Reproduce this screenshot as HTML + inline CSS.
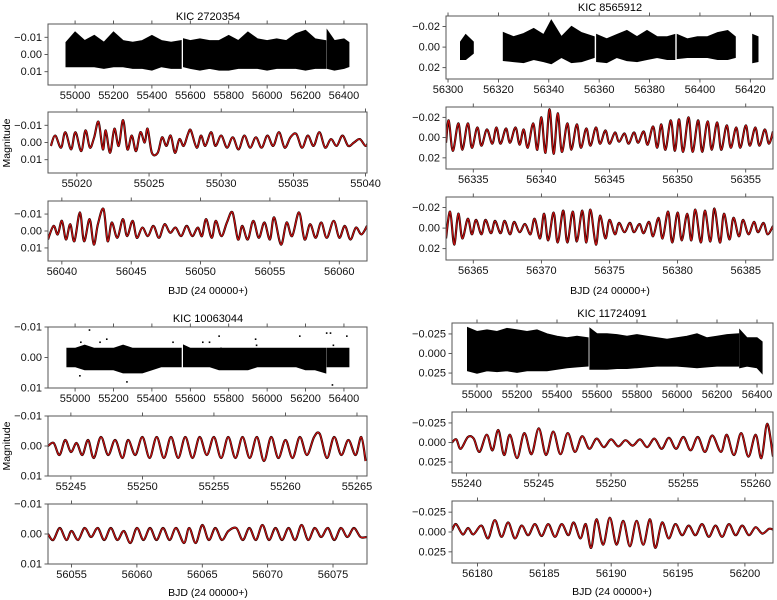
<!DOCTYPE html>
<html><head><meta charset="utf-8"><style>
html,body{margin:0;padding:0;background:#fff}
svg{display:block;font-family:"Liberation Sans","DejaVu Sans",sans-serif}
</style></head><body>
<svg id="fig" width="777" height="600" viewBox="0 0 777 600" xmlns="http://www.w3.org/2000/svg">
<text x="208" y="20" font-size="11" text-anchor="middle">KIC 2720354</text>
<text x="610" y="11" font-size="11" text-anchor="middle">KIC 8565912</text>
<text x="208" y="322" font-size="11" text-anchor="middle">KIC 10063044</text>
<text x="612" y="317" font-size="11" text-anchor="middle">KIC 11724091</text>
<text x="208" y="294" font-size="10.5" text-anchor="middle">BJD (24 00000+)</text>
<text x="610" y="294" font-size="10.5" text-anchor="middle">BJD (24 00000+)</text>
<text x="208" y="596" font-size="10.5" text-anchor="middle">BJD (24 00000+)</text>
<text x="612" y="595" font-size="10.5" text-anchor="middle">BJD (24 00000+)</text>
<text transform="translate(10,143) rotate(-90)" font-size="10.5" text-anchor="middle">Magnitude</text>
<text transform="translate(10,446) rotate(-90)" font-size="10.5" text-anchor="middle">Magnitude</text>
</svg>
<script>
// ---- full-range light curve envelopes (null = gap) ----
const tlFullT=[54953,55000,55050,55100,55150,55200,55250,55300,55350,55400,55450,55500,55552,null,55565,55600,55650,55700,55750,55800,55850,55900,55950,56000,56050,56100,56150,56200,56250,56305,null,56313,56350,56400,56425];
const tlFullUp=[-0.007,-0.013,-0.008,-0.011,-0.007,-0.013,-0.008,-0.007,-0.008,-0.011,-0.008,-0.007,-0.008,null,-0.009,-0.008,-0.009,-0.008,-0.008,-0.011,-0.008,-0.013,-0.009,-0.008,-0.009,-0.008,-0.012,-0.014,-0.009,-0.008,null,-0.014,-0.008,-0.009,-0.007];
const tlFullLo=[0.007,0.007,0.007,0.007,0.008,0.007,0.007,0.008,0.008,0.009,0.007,0.008,0.008,null,0.007,0.008,0.009,0.008,0.009,0.009,0.008,0.008,0.008,0.009,0.008,0.008,0.008,0.009,0.008,0.008,null,0.008,0.009,0.008,0.007];
const trFullT=[56305,56307,56310,null,56322,56326,56330,56334,56338,56341,56345,56349,56353,56358,null,56359,56363,56367,56371,56375,56379,56383,56387,56390,null,56391,56395,56399,56403,56407,56411,56414,null,56421,56423];
const trFullUp=[-0.005,-0.012,-0.005,null,-0.014,-0.010,-0.013,-0.018,-0.012,-0.026,-0.010,-0.020,-0.014,-0.010,null,-0.012,-0.008,-0.012,-0.016,-0.010,-0.016,-0.010,-0.010,-0.012,null,-0.012,-0.008,-0.010,-0.010,-0.014,-0.016,-0.010,null,-0.012,-0.010];
const trFullLo=[0.012,0.012,0.006,null,0.013,0.014,0.015,0.012,0.014,0.016,0.010,0.015,0.014,0.010,null,0.014,0.015,0.010,0.013,0.014,0.012,0.010,0.012,0.012,null,0.011,0.010,0.010,0.010,0.012,0.012,0.010,null,0.015,0.014];
const blFullT=[54958,55000,55050,55100,55150,55200,55250,55300,55350,55400,55450,55500,55552,null,55565,55600,55650,55700,55750,55800,55850,55900,55950,56000,56050,56100,56150,56200,56250,56305,null,56313,56350,56400,56425];
const blFullUp=[-0.003,-0.003,-0.004,-0.003,-0.003,-0.003,-0.004,-0.003,-0.003,-0.003,-0.003,-0.003,-0.003,null,-0.004,-0.003,-0.003,-0.003,-0.003,-0.003,-0.003,-0.003,-0.003,-0.003,-0.003,-0.003,-0.003,-0.003,-0.003,-0.003,null,-0.003,-0.003,-0.003,-0.003];
const blFullLo=[0.003,0.003,0.004,0.004,0.004,0.004,0.005,0.005,0.005,0.004,0.003,0.003,0.003,null,0.003,0.003,0.003,0.003,0.004,0.004,0.004,0.004,0.003,0.003,0.003,0.003,0.003,0.004,0.004,0.005,null,0.003,0.003,0.003,0.003];
const blOutT=[55025,55030,55075,55130,55165,55270,55510,55665,55700,55750,55760,55940,55945,56170,56310,56330,56340,56345,56415];
const blOutV=[0.006,-0.005,-0.009,-0.005,-0.006,0.008,-0.005,-0.005,-0.005,-0.007,-0.003,-0.006,-0.004,-0.007,-0.008,-0.008,0.009,-0.004,-0.007];
const brFullT=[54953,55000,55050,55100,55150,55200,55250,55300,55350,55400,55450,55500,55555,null,55565,55600,55650,55700,55750,55800,55850,55900,55950,56000,56050,56100,56150,56200,56250,56308,null,56314,56350,56400,56425];
const brFullUp=[-0.033,-0.028,-0.030,-0.028,-0.032,-0.030,-0.028,-0.030,-0.025,-0.022,-0.020,-0.022,-0.020,null,-0.032,-0.025,-0.025,-0.024,-0.022,-0.024,-0.022,-0.020,-0.018,-0.020,-0.022,-0.025,-0.020,-0.022,-0.024,-0.025,null,-0.030,-0.020,-0.020,-0.015];
const brFullLo=[0.022,0.025,0.022,0.023,0.022,0.024,0.022,0.022,0.022,0.020,0.018,0.017,0.016,null,0.020,0.020,0.020,0.019,0.019,0.018,0.017,0.016,0.016,0.016,0.017,0.018,0.017,0.016,0.016,0.016,null,0.018,0.016,0.018,0.025];

// ---- zoomed light curves: extrema times and magnitudes ----
const tl2T=[55018.2,55018.5,55018.9,55019.2,55019.6,55019.9,55020.3,55020.6,55020.9,55021.2,55021.5,55021.8,55022.0,55022.3,55022.6,55022.9,55023.2,55023.5,55023.8,55024.1,55024.4,55024.7,55024.9,55025.2,55025.6,55025.9,55026.2,55026.5,55026.8,55027.1,55027.4,55027.7,55027.9,55028.3,55028.6,55028.9,55029.3,55029.6,55030.0,55030.4,55030.8,55031.2,55031.6,55032.0,55032.4,55032.8,55033.2,55033.6,55034.0,55034.4,55034.8,55035.2,55035.6,55036.0,55036.4,55036.8,55037.2,55037.6,55038.0,55038.4,55038.8,55039.2,55039.6,55040.0,55040.2];
const tl2V=[0.002,-0.004,0.003,-0.006,0.004,-0.006,0.005,-0.007,0.003,-0.003,-0.012,0.004,-0.007,0.006,-0.008,0.002,-0.013,0.004,-0.004,0.005,-0.006,0.0,-0.008,0.006,0.006,-0.003,0.002,-0.004,0.006,-0.002,0.002,-0.005,-0.007,0.003,-0.004,0.002,-0.006,0.002,-0.004,0.003,-0.003,0.004,-0.004,0.003,-0.003,0.003,-0.004,0.002,-0.006,0.003,-0.003,-0.005,0.003,-0.004,0.002,-0.006,0.003,-0.002,0.002,-0.004,0.002,0.0,-0.002,0.002,-0.001];
const tl3T=[56039.0,56039.4,56039.7,56040.0,56040.3,56040.6,56040.9,56041.3,56041.6,56042.0,56042.3,56042.6,56043.0,56043.3,56043.6,56044.0,56044.4,56044.7,56045.1,56045.4,56045.8,56046.2,56046.6,56047.0,56047.4,56047.8,56048.2,56048.6,56049.0,56049.4,56049.8,56050.1,56050.4,56050.8,56051.1,56051.5,56051.9,56052.3,56052.7,56053.0,56053.4,56053.8,56054.2,56054.6,56055.0,56055.3,56055.8,56056.2,56056.6,56057.1,56057.5,56057.9,56058.3,56058.7,56059.1,56059.6,56060.0,56060.4,56060.8,56061.2,56061.6,56062.0];
const tl3V=[0.005,-0.003,0.002,-0.006,0.005,-0.004,0.006,-0.011,0.006,-0.007,0.008,-0.004,-0.013,0.006,-0.005,0.004,-0.007,0.003,-0.006,0.004,-0.002,0.003,-0.003,0.004,-0.004,0.001,-0.002,0.003,-0.003,0.003,-0.002,0.003,-0.007,0.004,-0.006,0.003,-0.005,-0.011,0.005,-0.003,0.005,-0.006,0.004,-0.005,0.005,-0.008,0.008,-0.005,0.003,-0.011,0.005,-0.004,0.004,-0.005,0.004,-0.006,0.004,-0.003,0.005,-0.002,0.002,-0.003];
const tr2T=[56333.0,56333.2,56333.5,56333.9,56334.2,56334.6,56334.9,56335.3,56335.6,56336.0,56336.4,56336.7,56337.0,56337.4,56337.7,56338.1,56338.4,56338.7,56339.0,56339.4,56339.7,56340.0,56340.3,56340.6,56340.9,56341.2,56341.5,56341.9,56342.2,56342.6,56342.9,56343.3,56343.6,56344.0,56344.3,56344.7,56345.0,56345.4,56345.7,56346.1,56346.4,56346.8,56347.1,56347.5,56347.8,56348.2,56348.5,56348.8,56349.1,56349.5,56349.8,56350.1,56350.4,56350.8,56351.1,56351.5,56351.8,56352.2,56352.5,56352.9,56353.2,56353.6,56353.9,56354.3,56354.6,56355.0,56355.3,56355.7,56356.0,56356.4,56356.7,56357.0];
const tr2V=[0.005,-0.017,0.013,-0.014,0.012,-0.014,0.010,-0.010,0.008,-0.008,0.006,-0.010,0.006,-0.009,0.005,-0.010,0.007,-0.008,0.010,-0.014,0.012,-0.020,0.015,-0.028,0.016,-0.024,0.014,-0.014,0.012,-0.013,0.010,-0.009,0.008,-0.010,0.006,-0.007,0.006,-0.005,0.004,-0.004,0.006,-0.005,0.005,-0.006,0.007,-0.011,0.010,-0.013,0.012,-0.017,0.013,-0.018,0.014,-0.020,0.014,-0.017,0.014,-0.016,0.012,-0.015,0.012,-0.012,0.010,-0.010,0.010,-0.012,0.008,-0.010,0.008,-0.008,0.006,-0.006];
const tr3T=[56363.0,56363.3,56363.6,56363.9,56364.2,56364.6,56364.9,56365.2,56365.6,56365.9,56366.3,56366.6,56367.0,56367.3,56367.7,56368.0,56368.4,56368.8,56369.2,56369.5,56369.9,56370.2,56370.5,56370.9,56371.2,56371.6,56371.9,56372.3,56372.6,56373.0,56373.3,56373.6,56374.0,56374.3,56374.7,56375.0,56375.4,56375.7,56376.1,56376.5,56376.8,56377.2,56377.5,56377.9,56378.2,56378.6,56378.9,56379.3,56379.6,56380.0,56380.3,56380.7,56381.0,56381.3,56381.7,56382.0,56382.4,56382.7,56383.1,56383.4,56383.8,56384.1,56384.5,56384.8,56385.2,56385.6,56385.9,56386.3,56386.6,56387.0];
const tr3V=[0.010,-0.016,0.016,-0.014,0.010,-0.009,0.006,-0.008,0.006,-0.008,0.005,-0.007,0.005,-0.007,0.006,-0.006,0.004,-0.004,0.006,-0.009,0.010,-0.014,0.012,-0.015,0.014,-0.017,0.014,-0.016,0.013,-0.017,0.014,-0.018,0.016,-0.012,0.010,-0.008,0.006,-0.005,0.004,-0.005,0.004,-0.004,0.005,-0.006,0.008,-0.010,0.010,-0.016,0.014,-0.015,0.012,-0.014,0.012,-0.018,0.014,-0.017,0.013,-0.019,0.014,-0.014,0.011,-0.010,0.008,-0.008,0.006,-0.006,0.004,-0.005,0.006,-0.002];
const bl2T=[55243.4,55243.8,55244.2,55244.6,55245.0,55245.4,55245.8,55246.2,55246.6,55247.1,55247.6,55248.1,55248.6,55249.0,55249.5,55250.0,55250.5,55251.0,55251.5,55252.0,55252.5,55253.0,55253.5,55254.0,55254.5,55255.0,55255.5,55256.0,55256.5,55257.0,55257.5,55258.0,55258.5,55259.0,55259.5,55260.0,55260.5,55261.0,55261.5,55262.0,55262.4,55262.9,55263.4,55263.9,55264.4,55264.9,55265.3,55265.6];
const bl2V=[0.000,-0.001,0.003,-0.002,0.002,-0.001,0.003,-0.002,0.004,-0.003,0.003,-0.002,0.004,-0.002,0.003,-0.003,0.004,-0.003,0.004,-0.003,0.004,-0.003,0.004,-0.003,0.003,-0.003,0.004,-0.003,0.004,-0.003,0.004,-0.003,0.005,-0.003,0.004,-0.002,0.004,-0.003,0.003,-0.003,-0.004,0.004,-0.003,0.003,-0.002,0.003,-0.003,0.005];
const bl3T=[56053.2,56053.6,56054.1,56054.6,56055.0,56055.5,56056.0,56056.5,56057.0,56057.5,56058.0,56058.5,56059.0,56059.5,56060.0,56060.5,56061.0,56061.5,56062.0,56062.5,56063.0,56063.6,56064.0,56064.5,56065.0,56065.5,56066.0,56066.5,56067.0,56067.6,56068.1,56068.6,56069.1,56069.6,56070.1,56070.6,56071.1,56071.6,56072.1,56072.6,56073.1,56073.6,56074.1,56074.6,56075.1,56075.6,56076.1,56076.6,56077.1,56077.6];
const bl3V=[0.000,0.002,-0.002,0.002,-0.001,0.002,-0.002,0.001,-0.002,0.002,-0.002,0.002,-0.001,0.003,-0.002,0.002,-0.002,0.002,-0.002,0.002,-0.002,0.003,-0.002,0.003,-0.003,0.002,-0.002,0.002,-0.001,-0.002,0.002,-0.002,0.002,-0.003,0.002,-0.002,0.002,-0.002,0.002,-0.003,0.002,-0.002,0.001,-0.002,0.002,-0.002,0.001,-0.002,0.001,0.001];
const br2T=[55239.0,55239.3,55239.6,55240.1,55240.5,55240.9,55241.4,55241.8,55242.2,55242.6,55243.0,55243.5,55244.0,55244.5,55245.0,55245.5,55246.0,55246.5,55247.0,55247.5,55248.0,55248.5,55249.0,55249.5,55250.0,55250.5,55251.0,55251.5,55252.0,55252.5,55253.0,55253.5,55254.0,55254.5,55255.0,55255.5,55256.0,55256.5,55257.0,55257.6,55258.0,55258.5,55259.0,55259.5,55260.0,55260.4,55260.8,55261.2];
const br2V=[0.000,-0.004,0.008,-0.007,-0.005,0.012,-0.010,0.010,-0.016,0.016,-0.010,0.020,-0.012,0.015,-0.018,0.016,-0.014,0.015,-0.012,0.012,-0.008,0.008,-0.005,0.006,-0.004,0.005,-0.003,0.004,-0.004,0.006,-0.005,0.008,-0.006,0.008,-0.007,0.010,-0.007,0.012,-0.009,0.012,-0.010,0.016,-0.012,0.018,-0.010,0.020,-0.024,0.018];
const br3T=[56178.1,56178.4,56178.9,56179.3,56179.7,56180.3,56180.8,56181.3,56181.8,56182.3,56182.8,56183.3,56183.8,56184.3,56184.8,56185.3,56185.8,56186.3,56186.8,56187.2,56187.7,56188.1,56188.5,56188.9,56189.4,56189.9,56190.4,56190.9,56191.4,56191.9,56192.4,56192.9,56193.3,56193.8,56194.3,56194.8,56195.3,56195.8,56196.3,56196.8,56197.3,56197.8,56198.3,56198.8,56199.3,56199.8,56200.3,56200.8,56201.3,56201.8,56202.1];
const br3V=[-0.002,-0.010,0.003,-0.005,0.003,-0.008,0.008,-0.015,0.006,-0.012,0.008,-0.008,0.004,-0.010,0.005,-0.010,0.006,-0.010,0.004,-0.012,0.008,-0.010,0.020,-0.016,0.016,-0.018,0.016,-0.014,0.018,-0.014,0.016,-0.016,0.020,-0.012,0.008,-0.010,0.004,-0.008,0.004,-0.010,0.006,-0.008,0.006,-0.010,0.004,-0.008,0.004,-0.006,0.002,-0.004,-0.003];

// ---- tick arrays ----
const fullTicks=[55000,55200,55400,55600,55800,56000,56200,56400];
const trFullTicks=[56300,56320,56340,56360,56380,56400,56420];
const tl2Ticks=[55020,55025,55030,55035,55040];
const tl3Ticks=[56040,56045,56050,56055,56060];
const tr2Ticks=[56335,56340,56345,56350,56355];
const tr3Ticks=[56365,56370,56375,56380,56385];
const bl2Ticks=[55245,55250,55255,55260,55265];
const bl3Ticks=[56055,56060,56065,56070,56075];
const br2Ticks=[55240,55245,55250,55255,55260];
const br3Ticks=[56180,56185,56190,56195,56200];
const yTicks1=[-0.01,0,0.01], yLab1=["\u22120.01","0.00","0.01"];
const yTicks2=[-0.02,0,0.02], yLab2=["\u22120.02","0.00","0.02"];
const yTicks4=[-0.025,0,0.025], yLab4=["\u22120.025","0.000","0.025"];

const NS="http://www.w3.org/2000/svg";
const svg=document.getElementById('fig');
function mk(tag,attrs,parent){const e=document.createElementNS(NS,tag);for(const k in attrs)e.setAttribute(k,attrs[k]);(parent||svg).appendChild(e);return e;}

function panel(name,box,xlim,ylim,xt,yt,yl){
  const g=mk('g',{});
  
  
  const [x0,y0,x1,y1]=box;
  const sx=v=>x0+(v-xlim[0])/(xlim[1]-xlim[0])*(x1-x0);
  const sy=v=>y0+(v-ylim[0])/(ylim[1]-ylim[0])*(y1-y0);
  const cid='c'+name;
  const cp=mk('clipPath',{id:cid},g);mk('rect',{x:x0,y:y0,width:x1-x0,height:y1-y0},cp);
  const plot=mk('g',{'clip-path':'url(#'+cid+')'},g);
  xt.forEach(t=>{const x=sx(t);
    const tk=mk('line',{x1:x,x2:x,y1:y1,y2:y1+3.5,stroke:'#333','stroke-width':0.8},g);
    
    
    mk('line',{x1:x,x2:x,y1:y0,y2:y0-3.5,stroke:'#333','stroke-width':0.8},g);
    const tx=mk('text',{x:x,y:y1+14,'font-size':11,'text-anchor':'middle',fill:'#111'},g);
    tx.textContent=String(t);
    
    
  });
  yt.forEach((t,i)=>{const y=sy(t);
    mk('line',{x1:x0-3.5,x2:x0,y1:y,y2:y,stroke:'#333','stroke-width':0.8},g);
    const tx=mk('text',{x:x0-6,y:y+3.5,'font-size':11,'text-anchor':'end',fill:'#111'},g);
    tx.textContent=yl[i];
    
    
  });
  mk('rect',{x:x0,y:y0,width:x1-x0,height:y1-y0,fill:'none',stroke:'#555','stroke-width':1},g);
  return {plot,sx,sy};
}
function envelope(p,T,U,L,name){
  let seg=[];
  const flush=()=>{ if(seg.length<2){seg=[];return;}
    let d='';
    seg.forEach((i,k)=>{d+=(k?'L':'M')+p.sx(T[i]).toFixed(1)+','+p.sy(U[i]).toFixed(1)+' ';});
    for(let k=seg.length-1;k>=0;k--){const i=seg[k];d+='L'+p.sx(T[i]).toFixed(1)+','+p.sy(L[i]).toFixed(1)+' ';}
    const e=mk('path',{d:d+'Z',fill:'#000',stroke:'#000','stroke-width':1.2,'stroke-linejoin':'miter'},p.plot);
    
    
    seg=[];};
  T.forEach((t,i)=>{ if(t===null) flush(); else seg.push(i);});
  flush();
}
function curve(p,T,V,name){
  const pts=T.map((t,i)=>[p.sx(t),p.sy(V[i])]);
  let d='M'+pts[0][0].toFixed(1)+','+pts[0][1].toFixed(1);
  for(let i=0;i<pts.length-1;i++){
    const a=pts[Math.max(0,i-1)],b=pts[i],c=pts[i+1],e=pts[Math.min(pts.length-1,i+2)];
    const c1=[b[0]+(c[0]-a[0])/6,b[1]+(c[1]-a[1])/6],c2=[c[0]-(e[0]-b[0])/6,c[1]-(e[1]-b[1])/6];
    d+=' C'+c1[0].toFixed(1)+','+c1[1].toFixed(1)+' '+c2[0].toFixed(1)+','+c2[1].toFixed(1)+' '+c[0].toFixed(1)+','+c[1].toFixed(1);
  }
  const k=mk('path',{d:d,fill:'none',stroke:'#1a0000','stroke-width':2.2},p.plot);
  
  
  const r=mk('path',{d:d,fill:'none',stroke:'#d01010','stroke-width':1.1},p.plot);
  
  
}

let p=panel('panel-kic2720354-full',[48,24,367,85],[54859,56520],[-0.0177,0.0177],fullTicks,yTicks1,yLab1);
envelope(p,tlFullT,tlFullUp,tlFullLo,'light-curve-kic2720354');
p=panel('panel-kic2720354-zoom1',[48,112,367,173],[55018,55040.1],[-0.0177,0.0177],tl2Ticks,yTicks1,yLab1);
curve(p,tl2T,tl2V,'curve-kic2720354-a');
p=panel('panel-kic2720354-zoom2',[48,201,367,261],[56039,56062],[-0.0177,0.0177],tl3Ticks,yTicks1,yLab1);
curve(p,tl3T,tl3V,'curve-kic2720354-b');

p=panel('panel-kic8565912-full',[446,16,773,79],[56299.2,56429],[-0.0302,0.031],trFullTicks,yTicks2,yLab2);
envelope(p,trFullT,trFullUp,trFullLo,'light-curve-kic8565912');
p=panel('panel-kic8565912-zoom1',[446,107,773,169],[56333,56357],[-0.0302,0.031],tr2Ticks,yTicks2,yLab2);
curve(p,tr2T,tr2V,'curve-kic8565912-a');
p=panel('panel-kic8565912-zoom2',[446,197,773,260],[56363,56387],[-0.0302,0.031],tr3Ticks,yTicks2,yLab2);
curve(p,tr3T,tr3V,'curve-kic8565912-b');

p=panel('panel-kic10063044-full',[48,327,367,388],[54859,56520],[-0.01,0.01],fullTicks,yTicks1,yLab1);
envelope(p,blFullT,blFullUp,blFullLo,'light-curve-kic10063044');
blOutT.forEach((t,i)=>{const c=mk('rect',{x:p.sx(t)-0.8,y:p.sy(blOutV[i])-0.8,width:1.6,height:1.6,fill:'#000'},p.plot);
  
  });
p=panel('panel-kic10063044-zoom1',[48,416,367,476],[55243.4,55265.7],[-0.01,0.01],bl2Ticks,yTicks1,yLab1);
curve(p,bl2T,bl2V,'curve-kic10063044-a');
p=panel('panel-kic10063044-zoom2',[48,504,367,564],[56053.2,56077.6],[-0.01,0.01],bl3Ticks,yTicks1,yLab1);
curve(p,bl3T,bl3V,'curve-kic10063044-b');

p=panel('panel-kic11724091-full',[452,323,773,384],[54875,56480],[-0.039,0.039],fullTicks,yTicks4,yLab4);
envelope(p,brFullT,brFullUp,brFullLo,'light-curve-kic11724091');
p=panel('panel-kic11724091-zoom1',[452,412,773,473],[55239,55261.2],[-0.039,0.039],br2Ticks,yTicks4,yLab4);
curve(p,br2T,br2V,'curve-kic11724091-a');
p=panel('panel-kic11724091-zoom2',[452,501,773,563],[56178.1,56202.1],[-0.039,0.039],br3Ticks,yTicks4,yLab4);
curve(p,br3T,br3V,'curve-kic11724091-b');
</script>
</body></html>
